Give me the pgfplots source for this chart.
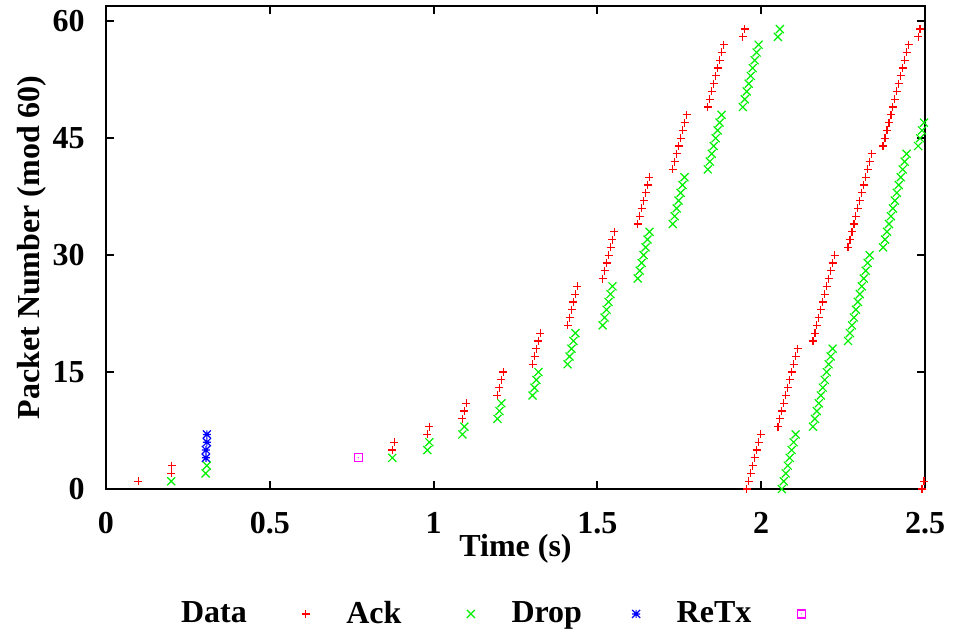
\documentclass[border=0pt]{standalone}
\usepackage{fontspec}
\setmainfont{Liberation Serif}
\usepackage{pgfplots}
\pgfplotsset{compat=1.18}

% gnuplot-like point types
\pgfdeclareplotmark{gpcross}{%
  \pgfpathmoveto{\pgfqpoint{-\pgfplotmarksize}{-\pgfplotmarksize}}%
  \pgfpathlineto{\pgfqpoint{\pgfplotmarksize}{\pgfplotmarksize}}%
  \pgfpathmoveto{\pgfqpoint{-\pgfplotmarksize}{\pgfplotmarksize}}%
  \pgfpathlineto{\pgfqpoint{\pgfplotmarksize}{-\pgfplotmarksize}}%
  \pgfusepathqstroke}
\pgfdeclareplotmark{gpstar}{%
  \pgfpathmoveto{\pgfqpoint{-\pgfplotmarksize}{-\pgfplotmarksize}}%
  \pgfpathlineto{\pgfqpoint{\pgfplotmarksize}{\pgfplotmarksize}}%
  \pgfpathmoveto{\pgfqpoint{-\pgfplotmarksize}{\pgfplotmarksize}}%
  \pgfpathlineto{\pgfqpoint{\pgfplotmarksize}{-\pgfplotmarksize}}%
  \pgfpathmoveto{\pgfqpoint{-\pgfplotmarksize}{0pt}}%
  \pgfpathlineto{\pgfqpoint{\pgfplotmarksize}{0pt}}%
  \pgfpathmoveto{\pgfqpoint{0pt}{-\pgfplotmarksize}}%
  \pgfpathlineto{\pgfqpoint{0pt}{\pgfplotmarksize}}%
  \pgfusepathqstroke}
\pgfdeclareplotmark{gpbox}{%
  \pgfpathrectanglecorners{\pgfqpoint{-\pgfplotmarksize}{-\pgfplotmarksize}}{\pgfqpoint{\pgfplotmarksize}{\pgfplotmarksize}}%
  \pgfusepathqstroke
  \pgfpathcircle{\pgfpointorigin}{0.3pt}\pgfusepathqfill}

\definecolor{gpred}{RGB}{255,0,0}
\definecolor{gpgreen}{RGB}{0,240,0}
\definecolor{gpblue}{RGB}{0,0,255}
\definecolor{gpmag}{RGB}{255,0,255}

\newcommand{\gpfont}{\fontsize{16}{19}\selectfont\bfseries}

\begin{document}
\begin{tikzpicture}
\useasboundingbox (-53pt,-72.5pt) rectangle (423.5pt,244.5pt);
\begin{axis}[
  scale only axis,
  width=409.5pt, height=241.65pt,
  xmin=0, xmax=2.5, ymin=0, ymax=62,
  xtick={0,0.5,1,1.5,2,2.5},
  ytick={0,15,30,45,60},
  axis line style={line width=1pt},
  every tick/.style={black, line width=1pt},
  major tick length=4.2pt,
  tick align=inside,
  tick pos=both,
  /pgf/number format/assume math mode=true,
  tick label style={font=\gpfont, inner sep=0pt},
  xticklabel style={anchor=north, yshift=-11.5pt},
  yticklabel style={anchor=east, xshift=-10.5pt},
  xlabel={Time (s)},
  ylabel={Packet Number (mod 60)},
  label style={font=\gpfont},
  xlabel style={at={(axis description cs:0.5,-0.124)}, anchor=center},
  ylabel style={at={(axis description cs:-0.0905,0.5)}, anchor=center},
  legend plot pos=right,
  legend columns=-1,
  legend image code/.code={%
    \path (0pt,0pt) (37pt,0pt);
    \draw[#1] plot coordinates {(17pt,0pt)};},
  legend style={at={(axis description cs:0.0917,-0.2585)}, anchor=west,
    draw=none, fill=none, inner sep=0pt, outer sep=0pt,
    nodes={font=\gpfont, text width=45pt, align=left, inner sep=0pt}},
  mark size=2pt,
  every axis plot/.append style={only marks, line width=0.6pt},
]
\addplot[gpred, mark=+] coordinates {
(0.098,1)
(0.199,2)(0.201,3)
(0.874,5)(0.880,6)
(0.981,7)(0.987,8)
(1.088,9)(1.094,10)(1.100,11)
(1.195,12)(1.201,13)(1.207,14)(1.213,15)
(1.302,16)(1.308,17)(1.314,18)(1.320,19)(1.326,20)
(1.409,21)(1.415,22)(1.421,23)(1.427,24)(1.433,25)(1.439,26)
(1.516,27)(1.522,28)(1.528,29)(1.534,30)(1.540,31)(1.546,32)(1.552,33)
(1.623,34)(1.629,35)(1.635,36)(1.641,37)(1.647,38)(1.653,39)(1.659,40)
(1.730,41)(1.736,42)(1.742,43)(1.748,44)(1.754,45)(1.760,46)(1.766,47)(1.772,48)
(1.837,49)(1.843,50)(1.849,51)(1.855,52)(1.861,53)(1.867,54)(1.873,55)(1.879,56)(1.885,57)
(1.944,58)(1.950,59)(1.956,0)(1.962,1)(1.968,2)(1.974,3)(1.980,4)(1.986,5)(1.992,6)(1.998,7)
(2.051,8)(2.057,9)(2.063,10)(2.069,11)(2.075,12)(2.081,13)(2.087,14)(2.093,15)(2.099,16)(2.105,17)(2.111,18)
(2.158,19)(2.164,20)(2.170,21)(2.176,22)(2.182,23)(2.188,24)(2.194,25)(2.200,26)(2.206,27)(2.212,28)(2.218,29)(2.224,30)
(2.265,31)(2.271,32)(2.277,33)(2.283,34)(2.289,35)(2.295,36)(2.301,37)(2.307,38)(2.313,39)(2.319,40)(2.325,41)(2.331,42)(2.337,43)
(2.372,44)(2.378,45)(2.384,46)(2.390,47)(2.396,48)(2.402,49)(2.408,50)(2.414,51)(2.420,52)(2.426,53)(2.432,54)(2.438,55)(2.444,56)(2.450,57)
(2.479,58)(2.485,59)(2.491,0)(2.497,1)
};
\addlegendentry{Data}
\addplot[gpgreen, mark=gpcross] coordinates {
(0.199,1)
(0.304,2)(0.308,3)
(0.874,4)
(0.981,5)(0.987,6)
(1.088,7)(1.094,8)
(1.195,9)(1.201,10)(1.207,11)
(1.302,12)(1.308,13)(1.314,14)(1.320,15)
(1.409,16)(1.415,17)(1.421,18)(1.427,19)(1.433,20)
(1.516,21)(1.522,22)(1.528,23)(1.534,24)(1.540,25)(1.546,26)
(1.623,27)(1.629,28)(1.635,29)(1.641,30)(1.647,31)(1.653,32)(1.659,33)
(1.730,34)(1.736,35)(1.742,36)(1.748,37)(1.754,38)(1.760,39)(1.766,40)
(1.837,41)(1.843,42)(1.849,43)(1.855,44)(1.861,45)(1.867,46)(1.873,47)(1.879,48)
(1.944,49)(1.950,50)(1.956,51)(1.962,52)(1.968,53)(1.974,54)(1.980,55)(1.986,56)(1.992,57)
(2.051,58)(2.057,59)(2.063,0)(2.069,1)(2.075,2)(2.081,3)(2.087,4)(2.093,5)(2.099,6)(2.105,7)
(2.158,8)(2.164,9)(2.170,10)(2.176,11)(2.182,12)(2.188,13)(2.194,14)(2.200,15)(2.206,16)(2.212,17)(2.218,18)
(2.265,19)(2.271,20)(2.277,21)(2.283,22)(2.289,23)(2.295,24)(2.301,25)(2.307,26)(2.313,27)(2.319,28)(2.325,29)(2.331,30)
(2.372,31)(2.378,32)(2.384,33)(2.390,34)(2.396,35)(2.402,36)(2.408,37)(2.414,38)(2.420,39)(2.426,40)(2.432,41)(2.438,42)(2.444,43)
(2.479,44)(2.485,45)(2.491,46)(2.497,47)
};
\addlegendentry{Ack}
\addplot[gpblue, mark=gpstar] coordinates {
(0.305,4)(0.305,5)(0.308,6)(0.308,7)
};
\addlegendentry{Drop}
\addplot[gpmag, mark=gpbox] coordinates {
(0.770,4)
};
\addlegendentry{ReTx}
\end{axis}
\end{tikzpicture}
\end{document}
